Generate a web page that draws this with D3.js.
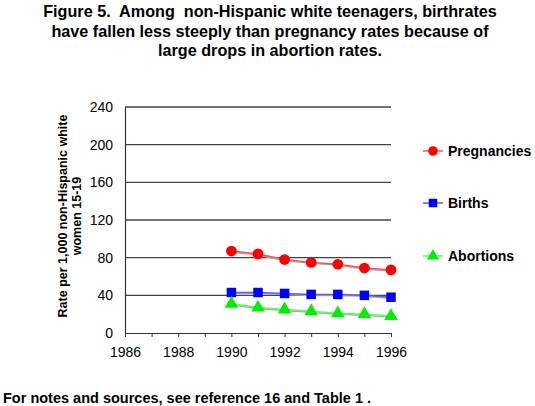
<!DOCTYPE html>
<html>
<head>
<meta charset="utf-8">
<script src="https://cdn.jsdelivr.net/npm/d3@7"></script>
<style>
  body { margin: 0; background: #fff; }
  svg { font-family: "Liberation Sans", Arial, sans-serif; }
</style>
</head>
<body>
<div id="chart"></div>
<script>
// data
const years = [1990, 1991, 1992, 1993, 1994, 1995, 1996];
const pregnancies = [87, 84, 78, 75, 73, 69, 67];
const births = [43, 43, 42, 41, 41, 40, 38];
const abortions = [31, 27, 25, 23, 21, 20, 18];
const yTicks = [0, 40, 80, 120, 160, 200, 240];
const xTicks = [1986, 1988, 1990, 1992, 1994, 1996];

const titleLines = [
    "Figure 5.  Among  non-Hispanic white teenagers, birthrates",
    "have fallen less steeply than pregnancy rates because of",
    "large drops in abortion rates."
];

const series = [
    {name: "Pregnancies", values: pregnancies, color: "#ff0000", line: "#ff5050", shape: d3.symbolCircle, size: 90, ly: 151},
    {name: "Births", values: births, color: "#0000ff", line: "#5a5aff", shape: d3.symbolSquare, size: 90, ly: 203},
    {name: "Abortions", values: abortions, color: "#00ee00", line: "#55ff55", shape: d3.symbolTriangle, size: 80, ly: 256}
];

const W = 535, H = 406;
const svg = d3.select("#chart").append("svg")
    .attr("width", W)
    .attr("height", H);

// title (keeps the double spaces)
svg.append("g").selectAll("text")
    .data(titleLines)
    .join("text")
    .attr("x", 270)
    .attr("y", (d, i) => 17 + i * 19.5)
    .attr("text-anchor", "middle")
    .style("font-size", "16.2px")
    .style("font-weight", "bold")
    .style("white-space", "pre")
    .text(d => d);

// scales
const x = d3.scaleLinear().domain([1986, 1996]).range([125, 391]);
const y = d3.scaleLinear().domain([0, 240]).range([333, 107]);

// gridlines
svg.append("g").selectAll("line")
    .data(yTicks.slice(1))
    .join("line")
    .attr("x1", x(1986)).attr("x2", x(1996))
    .attr("y1", d => y(d)).attr("y2", d => y(d))
    .attr("stroke", "#444")
    .attr("stroke-width", 1.3);

// y axis
const yAxis = svg.append("g")
    .attr("transform", `translate(${x(1986)},0)`)
    .call(d3.axisLeft(y).tickValues(yTicks).tickSize(0).tickPadding(12));
yAxis.select(".domain").attr("stroke", "#333").attr("stroke-width", 1.2);
yAxis.selectAll("text").style("font-size", "14px").attr("fill", "#000")
    .attr("font-family", "'Liberation Sans', Arial, sans-serif");

// x axis with minor ticks each year
const xAxis = svg.append("g")
    .attr("transform", `translate(0,${y(0)})`)
    .call(d3.axisBottom(x).tickValues(d3.range(1986, 1997)).tickSize(4).tickSizeOuter(0)
        .tickFormat(d => xTicks.includes(d) ? d : ""));
xAxis.select(".domain").attr("stroke", "#333").attr("stroke-width", 1.2);
xAxis.selectAll(".tick line").attr("stroke", "#333");
xAxis.selectAll("text").style("font-size", "14px").attr("fill", "#000")
    .attr("dy", "1.2em")
    .attr("font-family", "'Liberation Sans', Arial, sans-serif");

// y label
svg.append("text")
    .attr("transform", "translate(67,216) rotate(-90)")
    .attr("text-anchor", "middle")
    .style("font-size", "12.5px")
    .style("font-weight", "bold")
    .selectAll("tspan")
    .data(["Rate per 1,000 non-Hispanic white", "women 15-19"])
    .join("tspan")
    .attr("x", 0)
    .attr("dy", (d, i) => i === 0 ? 0 : "1.15em")
    .text(d => d);

// lines and markers
const line = d3.line()
    .x((d, i) => x(years[i]))
    .y(d => y(d));

series.forEach(s => {
    svg.append("path")
        .datum(s.values)
        .attr("fill", "none")
        .attr("stroke", "#aaa")
        .attr("stroke-width", 1.5)
        .attr("transform", "translate(0,1)")
        .attr("d", line);
    svg.append("path")
        .datum(s.values)
        .attr("fill", "none")
        .attr("stroke", s.line)
        .attr("stroke-width", 1.5)
        .attr("d", line);
    svg.append("g").selectAll("path")
        .data(s.values)
        .join("path")
        .attr("transform", (d, i) => `translate(${x(years[i])},${y(d)})`)
        .attr("d", d3.symbol().type(s.shape).size(s.size))
        .attr("fill", s.color);

    // legend
    const lg = svg.append("g").attr("transform", `translate(433,${s.ly})`);
    lg.append("line")
        .attr("x1", -10).attr("x2", 10)
        .attr("stroke", s.line).attr("stroke-width", 1.5);
    lg.append("path")
        .attr("d", d3.symbol().type(s.shape).size(s.size * 0.8))
        .attr("fill", s.color);
    lg.append("text")
        .attr("x", 15)
        .attr("dy", "0.36em")
        .style("font-size", "14px")
        .style("font-weight", "bold")
        .text(s.name);
});

// footer
svg.append("text")
    .attr("x", 3)
    .attr("y", 403)
    .style("font-size", "14.5px")
    .style("font-weight", "bold")
    .text("For notes and sources, see reference 16 and Table 1 .");
</script>
</body>
</html>
